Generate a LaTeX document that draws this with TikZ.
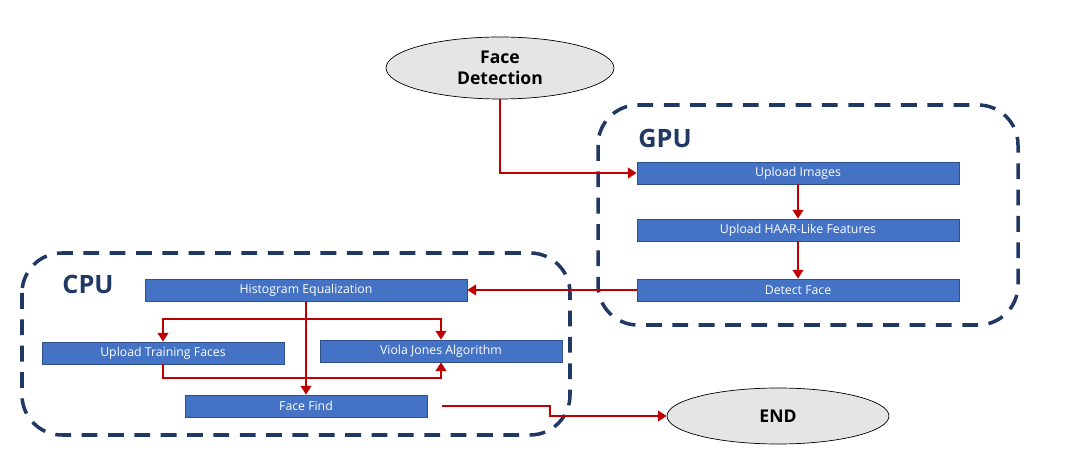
\documentclass[tikz,border=0pt]{standalone}
\usepackage{fontspec}
\setmainfont{Open Sans}
\usetikzlibrary{arrows.meta,positioning,calc,shapes.geometric}
\definecolor{boxblue}{HTML}{4472C4}
\definecolor{arrowred}{HTML}{C00000}
\definecolor{navy}{HTML}{1F3864}
\begin{document}
\begin{tikzpicture}[x=0.02cm,y=-0.02cm,
  stepbox/.style={rectangle,fill=boxblue,draw=boxblue!70!black,text=white,font=\scriptsize,minimum height=0.44cm,inner sep=0pt},
  terminal/.style={ellipse,fill=gray!20,draw=black,font=\bfseries,align=center,inner sep=0pt},
  flow/.style={draw=arrowred,line width=1.4pt,-{Triangle[length=5pt,width=6pt]}},
  group/.style={draw=navy,line width=2pt,dash pattern=on 9pt off 6pt,rounded corners=0.8cm}]
\useasboundingbox (0,0) rectangle (1065,469);
% groups
\draw[group] (598,105) rectangle (1018,325);
\draw[group] (22,253) rectangle (570,435);
\node[font=\Large\bfseries,text=navy] (gpu) at (665,138) {GPU};
\node[font=\Large\bfseries,text=navy] (cpu) at (88,284) {CPU};
% terminals
\node[terminal,minimum width=4.56cm,minimum height=1.24cm] (start) at (500,68) {Face\\Detection};
\node[terminal,minimum width=4.44cm,minimum height=1.12cm] (end) at (778,416) {END};
% GPU steps
\node[stepbox,minimum width=6.44cm] (upload) at (798,173) {Upload Images};
\node[stepbox,minimum width=6.44cm] (haar) at (798,230) {Upload HAAR-Like Features};
\node[stepbox,minimum width=6.44cm] (detect) at (798,290) {Detect Face};
% CPU steps
\node[stepbox,minimum width=6.44cm] (histo) at (306,290) {Histogram Equalization};
\node[stepbox,minimum width=4.84cm] (train) at (163,353) {Upload Training Faces};
\node[stepbox,minimum width=4.84cm] (viola) at (441,351) {Viola Jones Algorithm};
\node[stepbox,minimum width=4.84cm] (find) at (306,406) {Face Find};
% junctions
\coordinate (split) at (306,319);
\coordinate (out) at (442,406);
% connectors
\draw[flow] (start.south) |- (upload.west);
\draw[flow] (upload) -- (haar);
\draw[flow] (haar) -- (detect);
\draw[flow] (detect) -- (histo);
\draw[flow] (histo.south) -- (find.north);
\draw[flow] (split) -| (train.north);
\draw[flow] (split) -| (viola.north);
\draw[flow] (train.south) |- (441,378) -- (viola.south);
\draw[flow] (out) -- (550,406) |- (end.west);
\end{tikzpicture}
\end{document}
